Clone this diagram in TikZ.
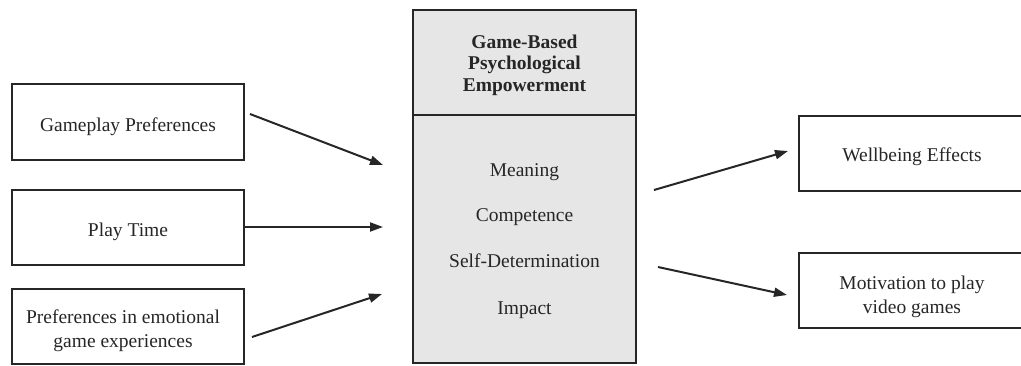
\documentclass[tikz,border=0pt]{standalone}
\usepackage{fontspec}
\setmainfont{Liberation Serif}
\usetikzlibrary{arrows.meta}
\definecolor{ink}{HTML}{262626}
\definecolor{panel}{HTML}{E6E6E6}
\begin{document}
\begin{tikzpicture}[x=1pt,y=-1pt,
  box/.style={draw=ink,line width=2.2pt,rectangle,inner sep=0pt},
  txt/.style={align=center,inner sep=0pt,text=ink,font=\fontsize{19.5}{24}\selectfont},
  head/.style={align=center,inner sep=0pt,text=ink,font=\fontsize{19.5}{21.5}\selectfont\bfseries},
  flow/.style={draw=ink,line width=2pt,-{Triangle[length=13pt,width=9pt]}}]
\useasboundingbox (0,0) rectangle (1021,365);
% input boxes
\node[box,minimum width=232pt,minimum height=76pt] (gp) at (128,122) {};
\node[box,minimum width=232pt,minimum height=75pt] (pt) at (128,227.5) {};
\node[box,minimum width=232pt,minimum height=75pt] (pe) at (128,326.5) {};
\node[txt] (gpt) at (128,127) {Gameplay Preferences};
\node[txt] (ptt) at (128,232) {Play Time};
\node[txt] (pet) at (123,331) {Preferences in emotional\\game experiences};
% central construct
\node[box,fill=panel,minimum width=223pt,minimum height=105pt] (gbpe) at (524.5,62.5) {};
\node[box,fill=panel,minimum width=223pt,minimum height=248pt] (dims) at (524.5,239) {};
\node[head] (gbpet) at (524.5,65) {Game-Based\\Psychological\\Empowerment};
\node[txt] (m1) at (524.5,172) {Meaning};
\node[txt] (m2) at (524.5,217) {Competence};
\node[txt] (m3) at (524.5,261) {Self-Determination};
\node[txt] (m4) at (524.5,310) {Impact};
% outcome boxes
\node[box,minimum width=226pt,minimum height=75pt] (we) at (912,153.5) {};
\node[box,minimum width=226pt,minimum height=75pt] (mv) at (912,290.5) {};
\node[txt] (wet) at (912,157) {Wellbeing Effects};
\node[txt] (mvt) at (912,297) {Motivation to play\\video games};
% arrow ends
\coordinate (a1s) at (250,114); \coordinate (a1e) at (383,165);
\coordinate (a2s) at (245,227); \coordinate (a2e) at (383,227);
\coordinate (a3s) at (252,337); \coordinate (a3e) at (382,294);
\coordinate (b1s) at (654,190); \coordinate (b1e) at (788,151);
\coordinate (b2s) at (658,267); \coordinate (b2e) at (787,295);
\draw[flow] (a1s) -- (a1e);
\draw[flow] (a2s) -- (a2e);
\draw[flow] (a3s) -- (a3e);
\draw[flow] (b1s) -- (b1e);
\draw[flow] (b2s) -- (b2e);
\end{tikzpicture}
\end{document}
